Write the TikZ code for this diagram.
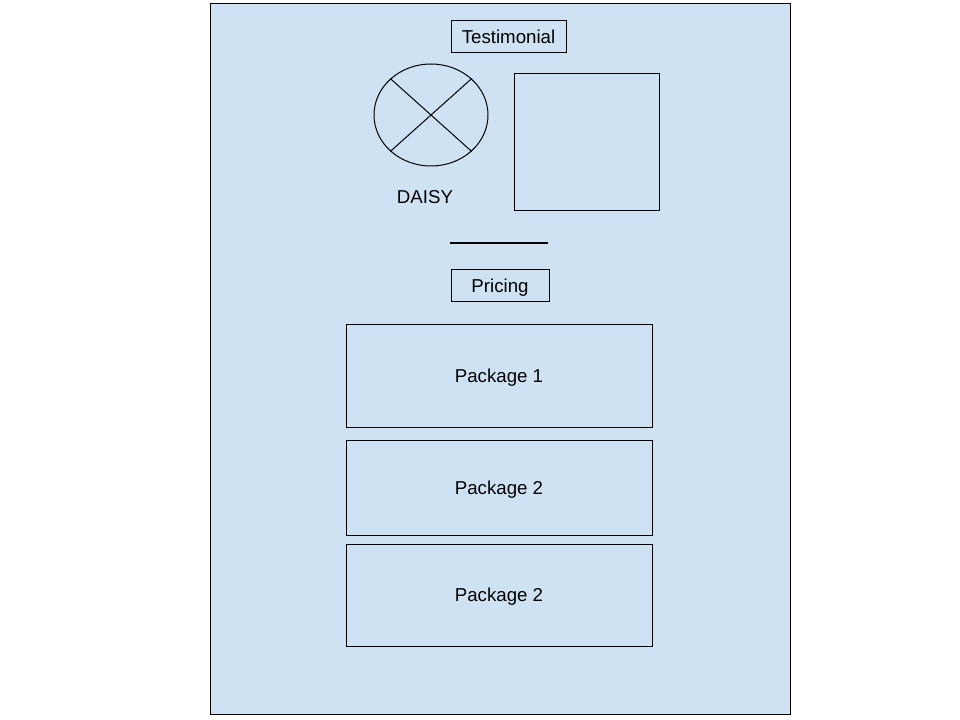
\documentclass[tikz,border=0pt]{standalone}
\usepackage{fontspec}
\setmainfont{Liberation Sans}
\usetikzlibrary{shapes.geometric}
\definecolor{paleblue}{HTML}{CFE2F3}
\tikzset{
	box/.style={draw,line width=0.75pt,inner sep=0pt,text depth=0pt,font=\fontsize{14}{16}\selectfont},
}
\begin{document}
\begin{tikzpicture}[x=0.75pt,y=-0.75pt]
			\useasboundingbox (0,0) rectangle (960,720);
			\node[box,fill=paleblue,minimum width=580*0.75pt,minimum height=710*0.75pt] (page) at (500,359) {};
			\node[box,minimum width=115*0.75pt,minimum height=32*0.75pt] (testimonial) at (508.5,37) {Testimonial};
			\node[box,ellipse,minimum width=114*0.75pt,minimum height=102*0.75pt] (avatar) at (431,115) {};
			\draw[line width=0.75pt] (avatar.north west) -- (avatar.south east);
			\draw[line width=0.75pt] (avatar.north east) -- (avatar.south west);
			\node[font=\fontsize{14}{16}\selectfont,text depth=0pt] (daisy) at (425,197) {DAISY};
			\node[box,minimum width=145*0.75pt,minimum height=137*0.75pt] (photo) at (586.5,142.5) {};
			\coordinate (rule-l) at (450,243);
			\coordinate (rule-r) at (548,243);
			\draw[line width=1.5pt] (rule-l) -- (rule-r);
			\node[box,minimum width=98*0.75pt,minimum height=32*0.75pt] (pricing) at (500,286) {Pricing};
			\node[box,minimum width=306*0.75pt,minimum height=103*0.75pt] (pack1) at (499,375.5) {Package 1};
			\node[box,minimum width=306*0.75pt,minimum height=95*0.75pt] (pack2) at (499,487.5) {Package 2};
			\node[box,minimum width=306*0.75pt,minimum height=102*0.75pt] (pack3) at (499,595) {Package 2};
		\end{tikzpicture}
\end{document}
